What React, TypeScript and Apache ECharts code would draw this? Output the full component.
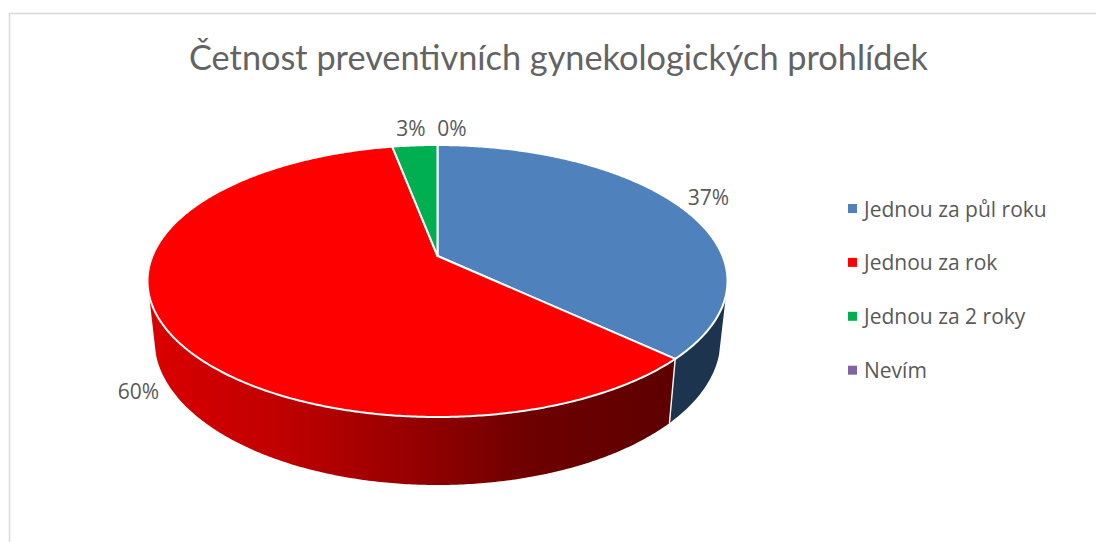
import React, { useEffect, useRef } from "react";
import * as echarts from "echarts";

const titleText = "Četnost preventivních gynekologických prohlídek";
const categories = ["Jednou za půl roku", "Jednou za rok", "Jednou za 2 roky", "Nevím"];
const shares = [37, 60, 3, 0];
const colors = ["#4f81bd", "#ff0000", "#00b050", "#8064a2"];
const labelOffsets = [[27, -10], [-25, 66], [-4, -17], [14.5, -17]];

const total = shares.reduce((a, b) => a + b, 0);
const starts = shares.map((_, i) => shares.slice(0, i).reduce((a, b) => a + b, 0) / total);

// 3D pie geometry (perspective: the apex sits above the ellipse centre)
const TOP = { cx: 437.5, cy: 281, rx: 290, ry: 136 };
const BOT = { cx: 437.5, cy: 340, rx: 283, ry: 145 };
const APEX_SHIFT = 25 / 136;
const KLEIN = APEX_SHIFT / (1 + Math.sqrt(1 - APEX_SHIFT * APEX_SHIFT));
const WALL_LIMIT = -0.1;

// circle angle (fraction of the turn, clockwise from the top) -> unit-ellipse position
function unit(frac: number): [number, number] {
  const th = frac * 2 * Math.PI;
  const zr = Math.sin(th), zi = Math.cos(th);
  const nr = zr, ni = zi + KLEIN;
  const dr = 1 + KLEIN * zi, di = -KLEIN * zr;
  const d = dr * dr + di * di;
  return [(nr * dr + ni * di) / d, (ni * dr - nr * di) / d];
}
const on = (e: typeof TOP, u: [number, number]): number[] => [e.cx + e.rx * u[0], e.cy - e.ry * u[1]];

function sampleFractions(a: number, b: number) {
  const n = Math.max(2, Math.ceil((b - a) * 720));
  const out: number[] = [];
  for (let i = 0; i <= n; i++) out.push(a + ((b - a) * i) / n);
  return out;
}

const wallFill = (i: number) => {
  if (i === 1) {
    return {
      type: "linear", x: 150, y: 0, x2: 672, y2: 0, global: true,
      colorStops: [
        { offset: 0, color: "#da0000" },
        { offset: 0.25, color: "#c00000" },
        { offset: 0.55, color: "#8e0000" },
        { offset: 0.72, color: "#6e0000" },
        { offset: 1, color: "#5e0000" },
      ],
    };
  }
  return i === 0 ? "#1d344f" : i === 2 ? "#005c2a" : "#40325a";
};

function renderSlice(i: number) {
  return (_params: any, api: any) => {
    const frac = api.value(0) / total;
    const start = starts[i];
    const end = start + frac;
    const children: any[] = [];
    const mid = (start + end) / 2;
    if (frac > 0) {
      const fr = sampleFractions(start, end);
      const wallFr = fr.filter((f) => unit(f)[1] <= WALL_LIMIT);
      if (wallFr.length > 1) {
        const upper = wallFr.map((f) => on(TOP, unit(f)));
        const lower = wallFr.map((f) => on(BOT, unit(f))).reverse();
        children.push({
          type: "polygon",
          shape: { points: upper.concat(lower) },
          style: { fill: wallFill(i), stroke: "none" },
        });
        if (unit(start)[1] <= WALL_LIMIT) {
          children.push({
            type: "line",
            shape: {
              x1: on(TOP, unit(start))[0], y1: on(TOP, unit(start))[1],
              x2: on(BOT, unit(start))[0], y2: on(BOT, unit(start))[1],
            },
            style: { stroke: "#ffffff", lineWidth: 1.4 },
          });
        }
      }
      const apex = [TOP.cx, TOP.cy - TOP.ry * APEX_SHIFT];
      children.push({
        type: "polygon",
        shape: { points: [apex].concat(fr.map((f) => on(TOP, unit(f)))) },
        style: { fill: colors[i], stroke: "#ffffff", lineWidth: 2, lineJoin: "round" },
      });
    }
    const anchor = on(TOP, unit(mid));
    children.push({
      type: "text",
      z2: 10,
      x: anchor[0] + labelOffsets[i][0],
      y: anchor[1] + labelOffsets[i][1],
      style: {
        text: `${api.value(0)}%`,
        fill: "#595959",
        fontFamily: "Open Sans",
        fontSize: 21,
        align: "center",
        verticalAlign: "middle",
      },
    });
    return { type: "group", children };
  };
}

export default function App() {
  const ref = useRef<HTMLDivElement>(null);
  useEffect(() => {
    const chart = echarts.init(ref.current!, undefined, { renderer: "svg" });
    chart.setOption({
      animation: false,
      backgroundColor: "#ffffff",
      title: {
        text: titleText,
        left: 553.5,
        top: 34,
        textAlign: "center",
        textStyle: { fontFamily: "Lato", fontWeight: 400, fontSize: 34.3, color: "#636363" },
      },
      legend: {
        orient: "vertical",
        left: 843,
        top: 193,
        itemWidth: 9,
        itemHeight: 9,
        itemGap: 32.9,
        icon: "rect",
        selectedMode: false,
        data: categories,
        textStyle: { fontFamily: "Open Sans", fontSize: 21, color: "#595959", padding: [0, 0, 0, 2] },
      },
      graphic: [
        { type: "line", shape: { x1: 8.5, y1: 13.5, x2: 1096, y2: 13.5 }, style: { stroke: "#d9d9d9", lineWidth: 1.5 } },
        { type: "line", shape: { x1: 9.5, y1: 13, x2: 9.5, y2: 542 }, style: { stroke: "#d9d9d9", lineWidth: 1.5 } },
      ],
      series: categories.map((name, i) => ({
        type: "custom",
        name,
        coordinateSystem: "none",
        itemStyle: { color: colors[i] },
        data: [[shares[i]]],
        renderItem: renderSlice(i),
        silent: true,
      })),
    });
    return () => chart.dispose();
  }, []);
  return <div ref={ref} style={{ position: "fixed", left: 0, top: 0, width: 1096, height: 542 }} />;
}
